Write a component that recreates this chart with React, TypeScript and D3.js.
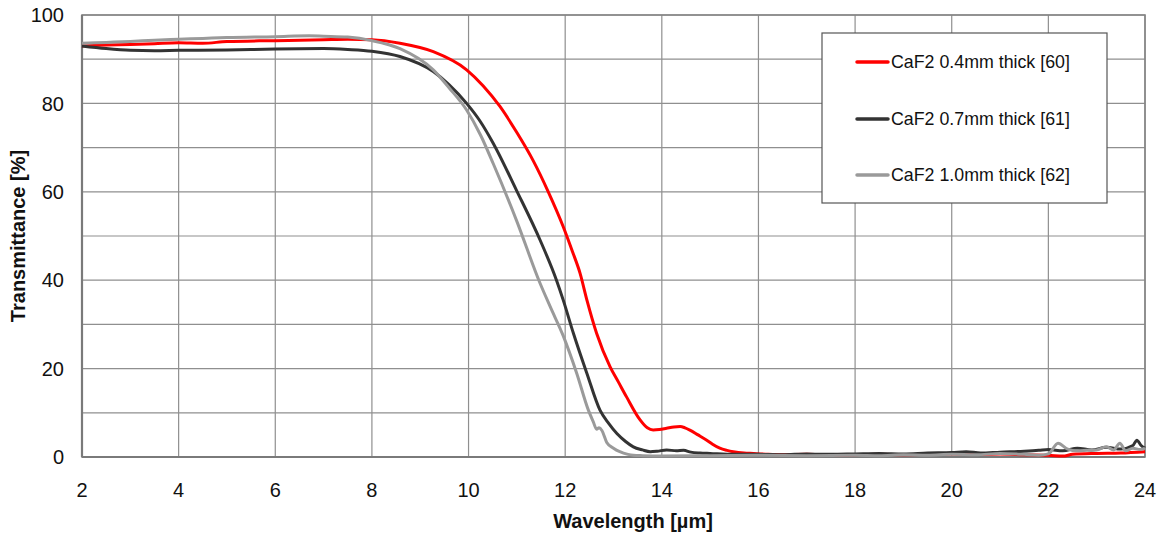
import React from "react";
import * as d3 from "d3";

type Pt = [number, number];

const xTicks = [2, 4, 6, 8, 10, 12, 14, 16, 18, 20, 22, 24];
const yTicks = [0, 20, 40, 60, 80, 100];
const yGrid = [0, 10, 20, 30, 40, 50, 60, 70, 80, 90, 100];

const seriesNames = ["CaF2 0.4mm thick [60]", "CaF2 0.7mm thick [61]", "CaF2 1.0mm thick [62]"];
const seriesColors = ["#ff0000", "#333333", "#9a9a9a"];

const red04: Pt[] = [
  [2, 93.0], [2.5, 93.2], [3, 93.3], [3.5, 93.5], [4, 93.7], [4.5, 93.6], [5, 94.0], [6, 94.2], [7, 94.4], [7.5, 94.5],
  [8, 94.4], [8.58, 93.6], [9.27, 91.7], [9.96, 87.6], [10.3, 84.0], [10.65, 79.3], [11.0, 73.4], [11.34, 67.0],
  [11.65, 60.0], [11.96, 52.1], [12.15, 46.5], [12.31, 41.5], [12.45, 35.5], [12.65, 28.0], [12.93, 20.4],
  [13.1, 17.0], [13.27, 13.6], [13.55, 8.4], [13.7, 6.6], [13.82, 6.1], [13.95, 6.2], [14.1, 6.5], [14.25, 6.8],
  [14.38, 6.9], [14.48, 6.6], [14.58, 6.1], [14.75, 5.0], [14.93, 3.8], [15.05, 2.9], [15.2, 2.0], [15.35, 1.5],
  [15.48, 1.2], [15.7, 0.9], [15.9, 0.8], [16.2, 0.6], [16.5, 0.5], [17, 0.6], [17.5, 0.4], [18, 0.5], [18.5, 0.6],
  [19, 0.5], [19.5, 0.6], [20, 0.7], [20.5, 0.6], [21, 0.7], [21.5, 0.5], [22, 0.4], [22.3, 0.2], [22.5, 0.6],
  [23, 0.8], [23.5, 0.9], [24, 1.2],
];

const dark07: Pt[] = [
  [2, 93.0], [2.5, 92.4], [3, 92.0], [3.5, 91.9], [4, 92.0], [5, 92.1], [6, 92.3], [7, 92.4], [7.5, 92.2],
  [8, 91.8], [8.58, 90.6], [9.27, 87.2], [9.6, 84.2], [9.96, 80.0], [10.25, 75.8], [10.51, 71.0], [10.99, 60.4],
  [11.48, 49.1], [11.82, 40.0], [11.96, 35.5], [12.17, 28.0], [12.45, 18.9], [12.72, 10.6], [12.9, 7.6],
  [13.07, 5.3], [13.25, 3.5], [13.41, 2.3], [13.6, 1.6], [13.76, 1.2], [13.9, 1.3], [14.1, 1.6], [14.3, 1.4],
  [14.45, 1.5], [14.6, 1.1], [14.79, 0.9], [15, 0.8], [15.5, 0.6], [16, 0.6], [16.5, 0.5], [17, 0.7], [17.5, 0.6],
  [18, 0.7], [18.5, 0.8], [19, 0.7], [19.5, 0.9], [20, 1.0], [20.3, 1.2], [20.6, 0.9], [21, 1.1], [21.5, 1.3],
  [21.8, 1.5], [22, 1.7], [22.3, 1.4], [22.6, 2.0], [22.9, 1.6], [23.2, 2.2], [23.5, 1.8], [23.75, 2.6],
  [23.83, 3.8], [23.92, 2.6], [24, 2.0],
];

const gray10: Pt[] = [
  [2, 93.6], [2.5, 93.8], [3, 94.0], [3.5, 94.3], [4, 94.5], [4.5, 94.7], [5, 94.9], [6, 95.1], [6.7, 95.3], [7, 95.2],
  [7.5, 95.0], [8, 94.2], [8.58, 92.4], [9.27, 87.6], [9.6, 83.5], [9.96, 78.5], [10.25, 72.8], [10.51, 66.4],
  [10.99, 53.6], [11.48, 39.3], [11.69, 34.0], [11.96, 27.4], [12.24, 18.9], [12.48, 10.6], [12.58, 8.0],
  [12.65, 6.3], [12.7, 6.6], [12.76, 6.0], [12.86, 3.3], [13.0, 2.0], [13.13, 1.2], [13.3, 0.6], [13.41, 0.4],
  [13.6, 0.3], [14, 0.2], [15, 0.3], [16, 0.4], [17, 0.3], [18, 0.4], [18.5, 0.3], [19, 0.5], [19.5, 0.4],
  [20, 0.6], [20.5, 0.5], [21, 0.8], [21.5, 0.6], [21.8, 0.4], [22, 0.7], [22.2, 3.1], [22.4, 1.8], [22.6, 1.4],
  [22.8, 1.5], [23, 1.6], [23.2, 2.3], [23.35, 1.6], [23.48, 3.1], [23.6, 1.4], [23.75, 2.0], [23.9, 1.7], [24, 2.0],
];

const allSeries: Pt[][] = [red04, dark07, gray10];

const W = 1171;
const H = 537;
const M = { left: 82, right: 26, top: 15, bottom: 80 };

export default function App() {
  const x = d3.scaleLinear().domain([2, 24]).range([M.left, W - M.right]);
  const y = d3.scaleLinear().domain([0, 100]).range([H - M.bottom, M.top]);
  const line = d3
    .line<Pt>()
    .x((d) => x(d[0]))
    .y((d) => y(d[1]))
    .curve(d3.curveMonotoneX);

  const font = "'Liberation Sans', Arial, sans-serif";
  const legendX = 822;
  const legendY = 33;
  const legendW = 285;
  const legendH = 170;
  const legendRows = [62, 119, 175];

  return (
    <svg
      width={W}
      height={H}
      style={{ position: "absolute", left: 0, top: 0, background: "#fff" }}
      fontFamily={font}
    >
      {/* grid */}
      {yGrid.map((v) => (
        <line key={"hy" + v} x1={x(2)} x2={x(24)} y1={y(v)} y2={y(v)} stroke="#8f8f8f" strokeWidth={1.2} />
      ))}
      {xTicks.map((v) => (
        <line key={"vx" + v} x1={x(v)} x2={x(v)} y1={y(0)} y2={y(100)} stroke="#8f8f8f" strokeWidth={1.2} />
      ))}
      {/* frame */}
      <rect x={x(2)} y={y(100)} width={x(24) - x(2)} height={y(0) - y(100)} fill="none" stroke="#858585" strokeWidth={1.6} />
      <line x1={x(2)} x2={x(24)} y1={y(0)} y2={y(0)} stroke="#7a7a7a" strokeWidth={2.2} />
      <line x1={x(2)} x2={x(2)} y1={y(0)} y2={y(100)} stroke="#7a7a7a" strokeWidth={2.2} />

      {/* series */}
      {allSeries.map((s, i) => (
        <path key={"s" + i} d={line(s) || ""} fill="none" stroke={seriesColors[i]} strokeWidth={3} strokeLinejoin="round" />
      ))}

      {/* y tick labels */}
      {yTicks.map((v) => (
        <text key={"yt" + v} x={64} y={y(v)} dy="0.36em" textAnchor="end" fontSize={20} fill="#111">
          {v}
        </text>
      ))}
      {/* x tick labels */}
      {xTicks.map((v) => (
        <text key={"xt" + v} x={x(v)} y={497} textAnchor="middle" fontSize={20} fill="#111">
          {v}
        </text>
      ))}

      {/* axis titles */}
      <text x={633} y={528} textAnchor="middle" fontSize={20} fontWeight="bold" fill="#111">
        Wavelength [µm]
      </text>
      <text
        transform={`translate(25, ${(y(0) + y(100)) / 2}) rotate(-90)`}
        textAnchor="middle"
        fontSize={20}
        fontWeight="bold"
        fill="#111"
      >
        Transmittance [%]
      </text>

      {/* legend */}
      <rect x={legendX} y={legendY} width={legendW} height={legendH} fill="#fff" stroke="#555" strokeWidth={1.2} />
      {seriesNames.map((n, i) => (
        <g key={"lg" + i}>
          <line x1={857} x2={888} y1={legendRows[i]} y2={legendRows[i]} stroke={seriesColors[i]} strokeWidth={3.5} strokeLinecap="round" />
          <text x={891} y={legendRows[i]} dy="0.36em" fontSize={17.8} fill="#111">
            {n}
          </text>
        </g>
      ))}
    </svg>
  );
}
